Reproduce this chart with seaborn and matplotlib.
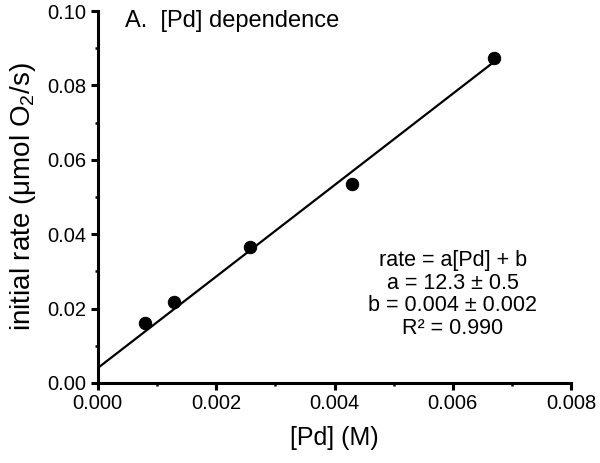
import seaborn as sns
import matplotlib.pyplot as plt
import matplotlib.ticker as mticker
import pandas as pd

# measured initial rates vs [Pd]
pd_conc = [0.00080, 0.00129, 0.00257, 0.00430, 0.00670]
rate = [0.0161, 0.0218, 0.0365, 0.0535, 0.0873]

# linear fit parameters
fit_a = 12.3
fit_b = 0.004
fit_x = [0.0, 0.0067]

x_ticks = [0.000, 0.002, 0.004, 0.006, 0.008]
y_ticks = [0.00, 0.02, 0.04, 0.06, 0.08, 0.10]

sns.set_style("ticks", {"axes.edgecolor": "black", "text.color": "black",
                        "axes.labelcolor": "black", "xtick.color": "black",
                        "ytick.color": "black"})
plt.rcParams['font.family'] = ['Liberation Sans', 'DejaVu Sans']
plt.rcParams['mathtext.fontset'] = 'custom'
plt.rcParams['mathtext.rm'] = 'Liberation Sans'
plt.rcParams['mathtext.it'] = 'Liberation Sans:italic'
plt.rcParams['mathtext.default'] = 'regular'

df = pd.DataFrame({"pd": pd_conc, "rate": rate})
fit_df = pd.DataFrame({"pd": fit_x, "rate": [fit_a * x + fit_b for x in fit_x]})

fig = plt.figure(figsize=(6, 4.63), dpi=100)
ax = fig.add_axes([0.163, 0.173, 0.789, 0.803])

sns.lineplot(data=fit_df, x="pd", y="rate", color="black", linewidth=1.6, ax=ax)
sns.scatterplot(data=df, x="pd", y="rate", color="black", s=80, edgecolor="black",
                zorder=3, clip_on=False, ax=ax)

ax.set_xlim(0, 0.008)
ax.set_ylim(0, 0.10)
ax.set_xticks(x_ticks)
ax.set_yticks(y_ticks)
ax.xaxis.set_major_formatter(mticker.FormatStrFormatter('%.3f'))
ax.yaxis.set_major_formatter(mticker.FormatStrFormatter('%.2f'))
ax.xaxis.set_minor_locator(mticker.AutoMinorLocator(2))
ax.yaxis.set_minor_locator(mticker.AutoMinorLocator(2))

sns.despine(ax=ax)
for side in ["left", "bottom"]:
    ax.spines[side].set_linewidth(2.2)
    ax.spines[side].set_color("black")
ax.tick_params(which="major", direction="out", length=5, width=2.2, labelsize=14.5, pad=3,
               colors="black")
ax.tick_params(which="minor", direction="out", length=2.5, width=1.8, colors="black")

ax.set_xlabel("[Pd] (M)", fontsize=18, labelpad=9, color="black")
ax.set_ylabel("initial rate (μmol O$_2$/s)", fontsize=20, labelpad=7, color="black")

ax.text(0.057, 0.957, "A.  [Pd] dependence", transform=ax.transAxes,
        fontsize=17, ha="left", va="baseline", color="black")
ax.text(0.75, 0.238, "rate = a[Pd] + b\na = 12.3 ± 0.5\nb = 0.004 ± 0.002\nR² = 0.990",
        transform=ax.transAxes, fontsize=15.5, ha="center", va="center",
        linespacing=1.1, color="black")

fig.savefig("out.png", dpi=100)
